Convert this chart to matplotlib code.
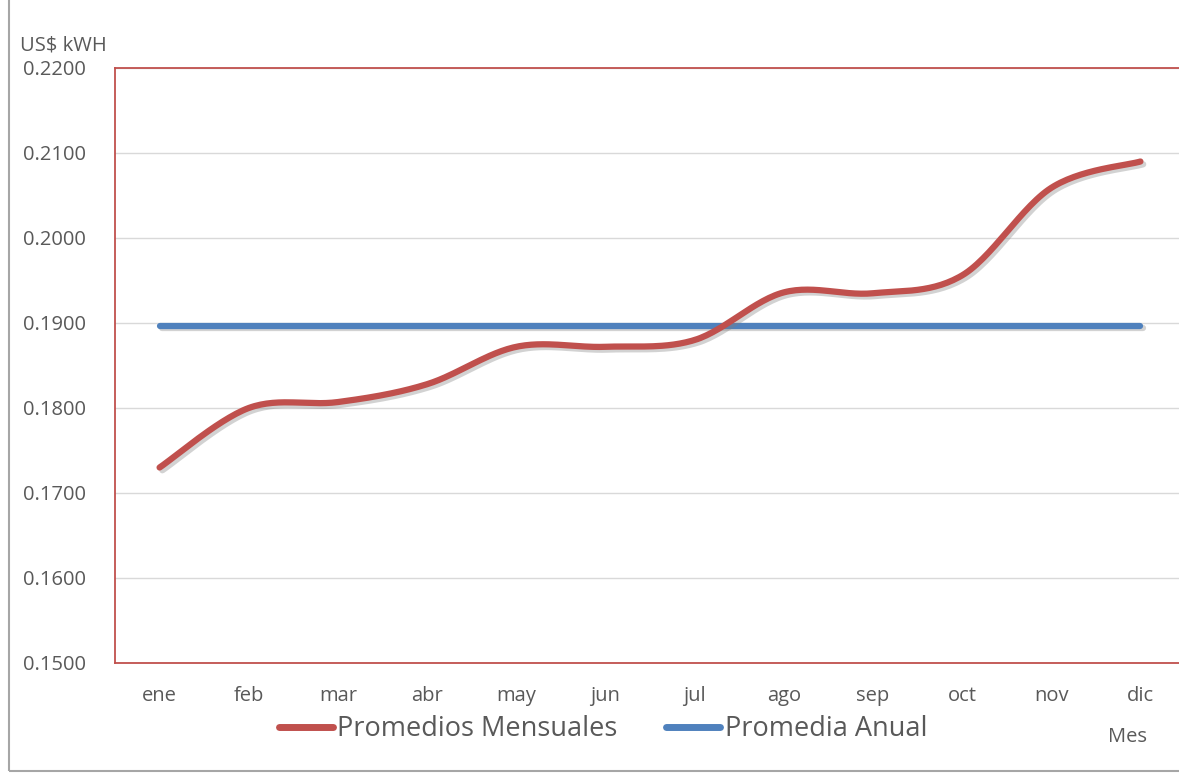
import numpy as np
import matplotlib.pyplot as plt
import matplotlib.patheffects as pe
from matplotlib.lines import Line2D
from matplotlib.patches import Rectangle

plt.rcParams['font.family'] = ['Open Sans', 'DejaVu Sans']

# data
meses = ['ene', 'feb', 'mar', 'abr', 'may', 'jun', 'jul', 'ago', 'sep', 'oct', 'nov', 'dic']
mensual = [0.1730, 0.1800, 0.1807, 0.1828, 0.1872, 0.1872, 0.1880, 0.1936, 0.1935, 0.1956, 0.2059, 0.2090]
anual = [0.1897] * 12

RED = '#C0504D'
BLUE = '#4F81BD'
TXT = '#595959'


def smooth(x, y, n=30):
    # Catmull-Rom bezier through the points, like Excel "smoothed line"
    p = np.column_stack([x, y]).astype(float)
    p = np.vstack([p[0], p, p[-1]])
    t = np.linspace(0, 1, n, endpoint=False)[:, None]
    out = []
    for i in range(1, len(p) - 2):
        b0 = p[i]
        b1 = p[i] + (p[i + 1] - p[i - 1]) / 6
        b2 = p[i + 1] - (p[i + 2] - p[i]) / 6
        b3 = p[i + 1]
        out.append((1 - t) ** 3 * b0 + 3 * t * (1 - t) ** 2 * b1
                   + 3 * t ** 2 * (1 - t) * b2 + t ** 3 * b3)
    out.append(p[-1][None, :])
    out = np.vstack(out)
    return out[:, 0], out[:, 1]


W, H = 1179, 773
fig = plt.figure(figsize=(W / 100, H / 100), dpi=100)

# outer chart border
fig.patches.append(Rectangle((9 / W, (H - 771) / H), 1.2, 1.2, transform=fig.transFigure,
                             fill=False, edgecolor='#A6A6A6', linewidth=1.5))

ax = fig.add_axes([115 / W, (H - 663) / H, (1185 - 115) / W, (663 - 68) / H])

x = np.arange(len(meses))
sx, sy = smooth(x, mensual)
shadow = [pe.SimpleLineShadow(offset=(2, -2), alpha=0.35, shadow_color='gray'), pe.Normal()]
ax.plot(sx, sy, color=RED, linewidth=4.5, solid_capstyle='round', path_effects=shadow, zorder=3)
ax.plot(x, anual, color=BLUE, linewidth=4.5, solid_capstyle='round', path_effects=shadow, zorder=2)

yt = np.arange(0.15, 0.2201, 0.01)
ax.set_xlim(-0.5, 11.5)
ax.set_ylim(0.15, 0.22)
ax.set_yticks(yt)
ax.set_yticklabels([f'{v:.4f}' for v in yt])
ax.set_xticks(x)
ax.set_xticklabels(meses)
ax.tick_params(axis='y', length=0, pad=21, labelsize=14.5, labelcolor=TXT)
ax.tick_params(axis='x', length=0, pad=16.5, labelsize=14.5, labelcolor=TXT)
ax.grid(axis='y', color='#D9D9D9', linewidth=1)
ax.set_axisbelow(True)
for s in ax.spines.values():
    s.set_color(RED)
    s.set_linewidth(1.3)

fig.text(20 / W, (H - 45) / H, 'US$ kWH', fontsize=14.5, color=TXT, va='center', ha='left')
fig.text(1127 / W, (H - 737) / H, 'Mes', fontsize=14.5, color=TXT, va='center', ha='center')

handles = [Line2D([], [], color=RED, linewidth=5, solid_capstyle='round'),
           Line2D([], [], color=BLUE, linewidth=5, solid_capstyle='round')]
fig.legend(handles, ['Promedios Mensuales', 'Promedia Anual'], loc='center',
           bbox_to_anchor=(603 / W, (H - 729) / H), ncol=2, frameon=False,
           fontsize=19.5, labelcolor=TXT, handlelength=2.0, handletextpad=0.15,
           columnspacing=1.8)

fig.savefig('out.png', dpi=100)
